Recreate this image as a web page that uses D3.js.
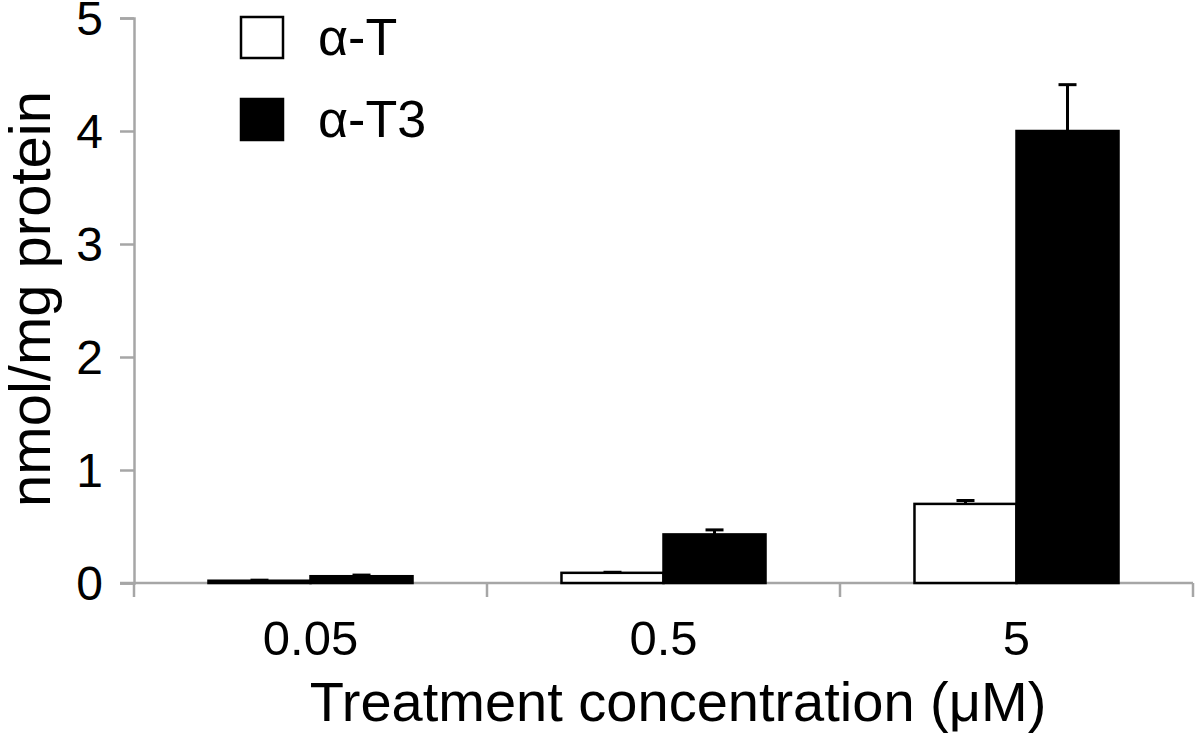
<!DOCTYPE html>
<html lang="en">
<head>
<meta charset="UTF-8">
<title>nmol/mg protein</title>
<script src="https://cdn.jsdelivr.net/npm/d3@7"></script>
<style>
    body { margin: 0; background: #fff; }
    text { font-family: "Liberation Sans", Arial, sans-serif; fill: #000; }
    .axis path, .axis line { stroke: #a6a6a6; stroke-width: 2.5; }
</style>
</head>
<body>
<svg id="chart" width="1200" height="735"></svg>
<script>
const concentrations = ["0.05", "0.5", "5"];
const seriesNames = ["α-T", "α-T3"];
const alphaT = [0.02, 0.09, 0.70];
const alphaT3 = [0.06, 0.43, 4.00];
const alphaTErr = [0.005, 0.005, 0.03];
const alphaT3Err = [0.01, 0.04, 0.41];
const yTicks = [0, 1, 2, 3, 4, 5];

const svg = d3.select("#chart");
const plotLeft = 134, plotRight = 1193, plotTop = 18, plotBottom = 583;

const x = d3.scaleBand().domain(concentrations).range([plotLeft, plotRight]).paddingInner(0).paddingOuter(0);
const inner = d3.scaleBand().domain(seriesNames).range([0, x.bandwidth()]).paddingOuter(0.73).paddingInner(0);
const y = d3.scaleLinear().domain([0, 5]).range([plotBottom, plotTop]);

const data = concentrations.map((c, i) => ({
    c,
    bars: [
        { s: seriesNames[0], v: alphaT[i], e: alphaTErr[i], fill: "#fff" },
        { s: seriesNames[1], v: alphaT3[i], e: alphaT3Err[i], fill: "#000" }
    ]
}));

// y axis
const yAxis = svg.append("g").attr("class", "axis")
    .attr("transform", `translate(${plotLeft},0)`)
    .call(d3.axisLeft(y).tickValues(yTicks).tickFormat(d3.format("d"))
        .tickSize(14).tickSizeOuter(14).tickPadding(17));
yAxis.selectAll("text").attr("font-size", 48).attr("dy", "0.35em");

// x axis with ticks at the category boundaries
const xAxis = svg.append("g").attr("class", "axis");
xAxis.append("line").attr("x1", plotLeft - 14).attr("x2", plotRight).attr("y1", plotBottom).attr("y2", plotBottom);
xAxis.selectAll(".bt").data(concentrations.concat([null])).join("line")
    .attr("x1", (d, i) => plotLeft + i * x.bandwidth())
    .attr("x2", (d, i) => plotLeft + i * x.bandwidth())
    .attr("y1", plotBottom).attr("y2", plotBottom + 14);
svg.append("g").selectAll("text").data(concentrations).join("text")
    .attr("x", d => x(d) + x.bandwidth() / 2)
    .attr("y", 655)
    .attr("text-anchor", "middle")
    .attr("font-size", 49)
    .text(d => d);

// bars
const groups = svg.append("g").selectAll("g").data(data).join("g")
    .attr("transform", d => `translate(${x(d.c)},0)`);
groups.selectAll("rect").data(d => d.bars).join("rect")
    .attr("x", d => inner(d.s))
    .attr("width", inner.bandwidth())
    .attr("y", d => y(d.v))
    .attr("height", d => y(0) - y(d.v))
    .attr("fill", d => d.fill)
    .attr("stroke", "#000")
    .attr("stroke-width", 2.5);

// error bars (upper only)
const eb = groups.selectAll(".err").data(d => d.bars).join("g").attr("class", "err");
eb.append("line")
    .attr("x1", d => inner(d.s) + inner.bandwidth() / 2)
    .attr("x2", d => inner(d.s) + inner.bandwidth() / 2)
    .attr("y1", d => y(d.v)).attr("y2", d => y(d.v + d.e))
    .attr("stroke", "#000").attr("stroke-width", 3);
eb.append("line")
    .attr("x1", d => inner(d.s) + inner.bandwidth() / 2 - 9)
    .attr("x2", d => inner(d.s) + inner.bandwidth() / 2 + 9)
    .attr("y1", d => y(d.v + d.e)).attr("y2", d => y(d.v + d.e))
    .attr("stroke", "#000").attr("stroke-width", 3);

// axis titles
svg.append("text")
    .attr("transform", `translate(50,299) rotate(-90)`)
    .attr("text-anchor", "middle")
    .attr("font-size", 58)
    .text("nmol/mg protein");
svg.append("text")
    .attr("x", 678).attr("y", 721)
    .attr("text-anchor", "middle")
    .attr("font-size", 56)
    .text("Treatment concentration (μM)");

// legend
const legend = svg.append("g").selectAll("g").data(seriesNames).join("g")
    .attr("transform", (d, i) => `translate(241,${17 + i * 82})`);
legend.append("rect")
    .attr("width", 42).attr("height", 41)
    .attr("fill", (d, i) => i === 0 ? "#fff" : "#000")
    .attr("stroke", "#000").attr("stroke-width", 2.5);
legend.append("text")
    .attr("x", 77).attr("y", 38)
    .attr("font-size", 52)
    .text(d => d);
</script>
</body>
</html>
